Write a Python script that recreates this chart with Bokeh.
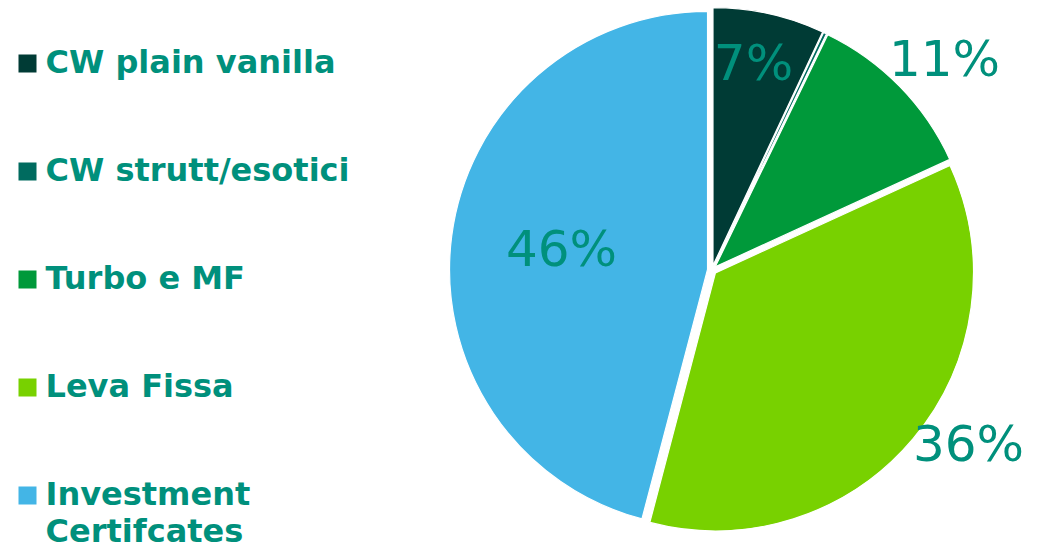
import math
from bokeh.plotting import figure
from bokeh.models import Range1d, ColumnDataSource
from bokeh.core.properties import value
from bokeh.embed import file_html
from bokeh.resources import INLINE

# ---- data ----
categories = ["CW plain vanilla", "CW strutt/esotici", "Turbo e MF", "Leva Fissa", "Investment\nCertifcates"]
shares = [7.0, 0.2, 11.0, 36.0, 46.0]
pct_labels = ["7%", "", "11%", "36%", "46%"]
colors = ["#003b35", "#006b5f", "#00993a", "#78d100", "#43b5e6"]

# ---- layout ----
W, H = 1024, 547
CX, CY = 711.5, 269.5      # screen coords (y down)
R = 258
EXPLODE = 4.5
label_pos = [(753, 62), None, (944, 58), (968, 443), (561, 248)]
TEXT_COLOR = "#00907c"

p = figure(width=W, height=H, x_range=Range1d(0, W), y_range=Range1d(0, H),
           output_backend="svg", toolbar_location=None, min_border=0)
p.axis.visible = False
p.grid.visible = False
p.outline_line_color = None
p.background_fill_color = "white"

total = sum(shares)
theta = 0.0
xs, ys, starts, ends = [], [], [], []
for s in shares:
    t1 = theta
    t2 = theta + s / total * 360.0
    theta = t2
    mid = math.radians((t1 + t2) / 2)
    xs.append(CX + EXPLODE * math.sin(mid))
    ys.append(H - CY + EXPLODE * math.cos(mid))
    starts.append(math.pi / 2 - math.radians(t2))
    ends.append(math.pi / 2 - math.radians(t1))

src = ColumnDataSource(dict(x=xs, y=ys, start=starts, end=ends, color=colors))
p.wedge(x="x", y="y", radius=R, start_angle="start", end_angle="end",
        direction="anticlock", fill_color="color", line_color="white", line_width=1.2,
        source=src)

# percentage labels
lx, ly, lt = [], [], []
for pos, t in zip(label_pos, pct_labels):
    if pos is None or not t:
        continue
    lx.append(pos[0]); ly.append(H - pos[1]); lt.append(t)
p.text(x=lx, y=ly, text=lt, text_font=value("DejaVu Sans"), text_font_size="50px",
       text_color=TEXT_COLOR, text_align="center", text_baseline="middle")

# legend
leg_y0 = 63
leg_dy = 108
sq_y = [H - (leg_y0 + i * leg_dy) for i in range(len(categories))]
p.rect(x=[27] * len(categories), y=sq_y, width=18, height=18,
       fill_color=colors, line_color=None)
p.text(x=[45] * len(categories), y=[y + 21 for y in sq_y], text=categories,
       text_font=value("DejaVu Sans"), text_font_style="bold", text_font_size="32px",
       text_color=TEXT_COLOR, text_align="left", text_baseline="top",
       text_line_height=0.98)

open("out.html", "w").write(file_html(p, INLINE))
